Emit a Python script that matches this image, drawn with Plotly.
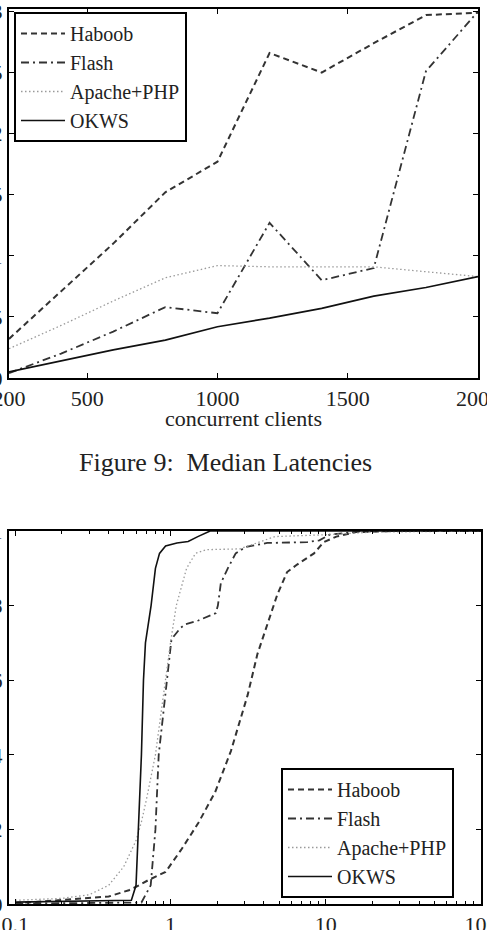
import plotly.graph_objects as go

# ---------------- Data: Figure 9 (median latency vs concurrent clients)
clients = [200, 400, 600, 800, 1000, 1200, 1400, 1600, 1800, 2000]
haboob_med = [0.32, 0.71, 1.10, 1.52, 1.77, 2.66, 2.50, 2.74, 2.97, 2.99]
flash_med = [0.04, 0.20, 0.38, 0.58, 0.53, 1.27, 0.80, 0.90, 2.51, 3.00]
apache_med = [0.24, 0.43, 0.63, 0.82, 0.92, 0.91, 0.91, 0.91, 0.87, 0.83]
okws_med = [0.05, 0.14, 0.23, 0.31, 0.42, 0.49, 0.57, 0.67, 0.74, 0.83]

top_xticks = [200, 500, 1000, 1500, 2000]
top_yticks = [0, 0.5, 1, 1.5, 2, 2.5, 3]
top_yticktext = ["0", "0.5", "1", "1.5", "2", "2.5", "3"]

# ---------------- Data: latency CDFs (log x)
haboob_cdf_x = [0.1, 0.13, 0.27, 0.4, 0.54, 0.6, 0.72, 0.93, 1.17, 1.51, 1.94, 2.45, 3.14,
                3.63, 4.21, 4.88, 5.64, 6.54, 8.4, 9.7, 11.7, 15.7, 28, 100]
haboob_cdf_y = [0.003, 0.005, 0.015, 0.02, 0.037, 0.046, 0.064, 0.086, 0.145, 0.217, 0.30,
                0.41, 0.56, 0.67, 0.75, 0.83, 0.89, 0.91, 0.94, 0.97, 0.985, 0.997, 1.0, 1.0]

flash_cdf_x = [0.1, 0.3, 0.65, 0.746, 0.80, 0.84, 0.90, 0.97, 1.015, 1.16, 1.25, 1.51, 1.96,
               2.02, 2.11, 2.34, 2.63, 3.05, 4.2, 7.6, 9.1, 10.6, 17.5, 100]
flash_cdf_y = [0.001, 0.002, 0.004, 0.05, 0.2, 0.4, 0.51, 0.635, 0.71, 0.74, 0.75, 0.76, 0.78,
               0.80, 0.86, 0.90, 0.94, 0.957, 0.968, 0.97, 0.975, 0.99, 1.0, 1.0]

apache_cdf_x = [0.1, 0.2, 0.3, 0.4, 0.5, 0.6, 0.65, 0.7, 0.8, 0.86, 0.92, 1.0, 1.09, 1.27,
                1.45, 1.7, 2.8, 4.7, 10, 20, 100]
apache_cdf_y = [0.01, 0.015, 0.025, 0.05, 0.1, 0.17, 0.22, 0.28, 0.4, 0.5, 0.6, 0.7, 0.8, 0.9,
                0.94, 0.95, 0.952, 0.985, 0.99, 0.997, 1.0]

okws_cdf_x = [0.1, 0.3, 0.56, 0.6, 0.62, 0.65, 0.67, 0.69, 0.75, 0.8, 0.85, 0.93, 1.1, 1.3,
              1.5, 1.8, 100]
okws_cdf_y = [0.005, 0.007, 0.01, 0.05, 0.2, 0.4, 0.6, 0.7, 0.8, 0.9, 0.94, 0.96, 0.968,
              0.972, 0.985, 1.0, 1.0]

bot_xticks = [0.1, 1, 10, 100]
bot_xticktext = ["0.1", "1", "10", "100"]
bot_xminor = [0.2, 0.3, 0.4, 0.5, 0.6, 0.7, 0.8, 0.9, 2, 3, 4, 5, 6, 7, 8, 9,
              20, 30, 40, 50, 60, 70, 80, 90]
bot_yticks = [0, 0.2, 0.4, 0.6, 0.8, 1]
bot_yticktext = ["0", "0.2", "0.4", "0.6", "0.8", "1"]

names = ["Haboob", "Flash", "Apache+PHP", "OKWS"]
styles = [
    dict(color="#333333", width=2, dash="6px,4px"),
    dict(color="#333333", width=1.8, dash="8px,4px,2px,4px"),
    dict(color="#9a9a9a", width=1.3, dash="1.5px,2.5px"),
    dict(color="#111111", width=1.6, dash="solid"),
]

FONT = "Liberation Serif, Times New Roman, Times, serif"
W, H = 487, 930
L, R = 9, 5
PW = W - L - R

fig = go.Figure()

top_series = [haboob_med, flash_med, apache_med, okws_med]
for n, s, ys in zip(names, styles, top_series):
    fig.add_trace(go.Scatter(x=clients, y=ys, mode="lines", name=n, line=s,
                             xaxis="x", yaxis="y", legend="legend"))

bot_series = [(haboob_cdf_x, haboob_cdf_y), (flash_cdf_x, flash_cdf_y),
              (apache_cdf_x, apache_cdf_y), (okws_cdf_x, okws_cdf_y)]
for n, s, (xs, ys) in zip(names, styles, bot_series):
    fig.add_trace(go.Scatter(x=xs, y=ys, mode="lines", name=n, line=s,
                             xaxis="x2", yaxis="y2", legend="legend2"))

axis_common = dict(showgrid=False, zeroline=False, showline=True, linecolor="black",
                   linewidth=2, mirror="ticks", ticks="inside", ticklen=5, tickwidth=1,
                   tickcolor="black", automargin=False, ticklabeloverflow="allow",
                   tickfont=dict(family=FONT, size=22, color="#222"))

def px_x(p):
    return (p - L) / PW

def px_y(p):
    return 1 - p / H

legend_common = dict(xanchor="left", bgcolor="white", bordercolor="black", borderwidth=2,
                     font=dict(family=FONT, size=20, color="#222"), tracegroupgap=0,
                     itemwidth=44)

fig.update_layout(
    width=W, height=H,
    margin=dict(l=L, r=R, t=0, b=0, autoexpand=False),
    paper_bgcolor="white", plot_bgcolor="white",
    font=dict(family=FONT, size=22, color="#222"),
    xaxis=dict(domain=[0, px_x(478)], range=[200, 2000], tickvals=top_xticks,
               anchor="y", **axis_common),
    yaxis=dict(domain=[px_y(378), px_y(9)], range=[0, 3.02], tickvals=top_yticks,
               ticktext=top_yticktext, anchor="x", **axis_common),
    xaxis2=dict(domain=[0, px_x(481)], type="log", range=[-1.04, 2.0], tickvals=bot_xticks,
                ticktext=bot_xticktext, anchor="y2",
                minor=dict(tickvals=bot_xminor, ticks="inside", ticklen=3,
                           tickcolor="black", tickwidth=1),
                **axis_common),
    yaxis2=dict(domain=[px_y(904), px_y(531)], range=[0, 1.0], tickvals=bot_yticks,
                ticktext=bot_yticktext, anchor="x2", **axis_common),
    legend=dict(x=px_x(14), y=px_y(12), yanchor="top", **legend_common),
    legend2=dict(x=px_x(281), y=px_y(898), yanchor="bottom", **legend_common),
    annotations=[
        dict(text="concurrent clients", x=px_x(243.5), y=px_y(418), xref="paper",
             yref="paper", showarrow=False, xanchor="center", yanchor="middle",
             font=dict(family=FONT, size=22, color="#222")),
        dict(text="Figure 9:  Median Latencies", x=px_x(225), y=px_y(463), xref="paper",
             yref="paper", showarrow=False, xanchor="center", yanchor="middle",
             font=dict(family=FONT, size=26, color="#222")),
    ],
)

fig.write_html("out.html")
